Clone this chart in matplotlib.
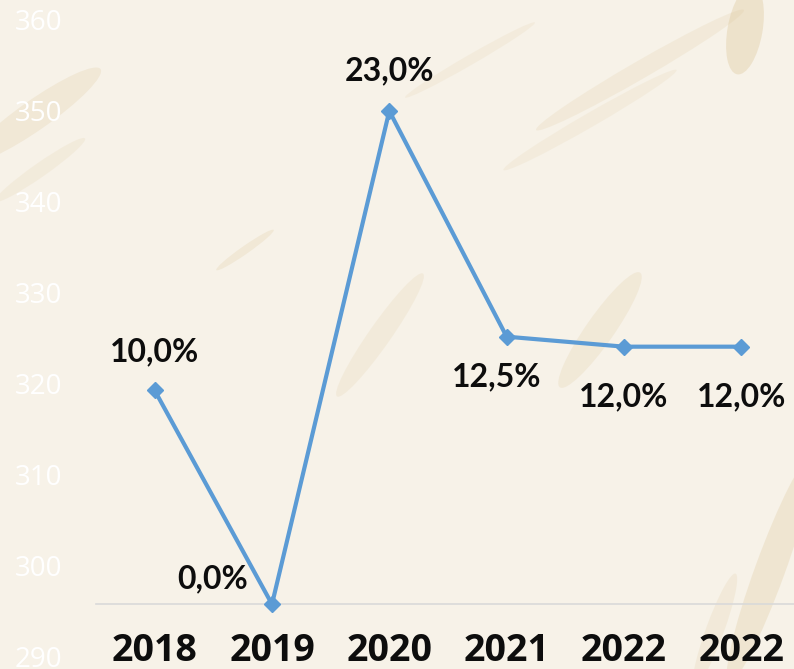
import matplotlib
matplotlib.use('Agg')
import matplotlib.pyplot as plt
from matplotlib.patches import Ellipse

# chart data
years = ['2018', '2019', '2020', '2021', '2022', '2022']
values = [319.3, 295.8, 350.0, 325.2, 324.1, 324.1]
labels = ['10,0%', '0,0%', '23,0%', '12,5%', '12,0%', '12,0%']
y_ticks = [290, 300, 310, 320, 330, 340, 350, 360]
baseline = 295.8

# label offsets in points (dx, dy)
offsets = [(0, 28), (-43, 18), (0, 29), (-7, -29), (0, -36), (0, -36)]

bg = '#f7f2e8'
tan = '#dcc597'
blue = '#5b9bd5'

# soft brush strokes of the paper background (pixels: x, y, length, width, angle, alpha)
strokes = [
    (745, 30, 90, 35, 80, 0.35),
    (640, 70, 240, 18, 30, 0.18),
    (590, 120, 200, 14, 30, 0.14),
    (35, 115, 160, 30, 35, 0.22),
    (40, 170, 110, 14, 35, 0.15),
    (380, 335, 150, 22, 55, 0.16),
    (600, 330, 140, 28, 55, 0.2),
    (770, 570, 240, 30, 70, 0.28),
    (715, 630, 120, 18, 70, 0.18),
    (245, 250, 70, 8, 35, 0.22),
    (470, 60, 150, 10, 30, 0.14),
]

W, H = 794, 669
fig = plt.figure(figsize=(W / 100, H / 100), dpi=100)
fig.patch.set_facecolor(bg)
# strokes drawn in pixel space so the angle is not squeezed
for sx, sy, sl, sw, ang, a in strokes:
    fig.add_artist(Ellipse((sx, H - sy), sl, sw, angle=ang,
                           transform=None, facecolor=tan,
                           edgecolor='none', alpha=a, zorder=0))

ax = fig.add_axes([0.1209, 0.01794, 0.8866, 0.9522])
ax.set_facecolor('none')

x = list(range(len(years)))
ax.plot(x, values, color=blue, linewidth=3, marker='D', markersize=8.5,
        clip_on=False, zorder=3)

for xi, v, lab, (dx, dy) in zip(x, values, labels, offsets):
    ax.annotate(lab, (xi, v), xytext=(dx, dy), textcoords='offset points',
                ha='center', va='center', fontsize=23, fontweight='bold',
                fontfamily='Lato', color='#0d0d0d', zorder=4)

ax.set_xlim(-0.5, len(years) - 0.5)
ax.set_ylim(290, 360)

# axes line and spines
for s in ['top', 'right', 'left']:
    ax.spines[s].set_visible(False)
ax.spines['bottom'].set_position(('data', baseline))
ax.spines['bottom'].set_color('#d9d9d9')
ax.spines['bottom'].set_linewidth(1.2)

ax.set_xticks(x)
ax.set_xticklabels(years, fontsize=27, fontweight='bold',
                   fontfamily='Open Sans', color='#0d0d0d')
ax.tick_params(axis='x', length=0, pad=20)

ax.set_yticks(y_ticks)
ax.set_yticklabels([str(t) for t in y_ticks], fontsize=20,
                   fontfamily='Open Sans', color='white')
ax.tick_params(axis='y', length=0, pad=24)

plt.savefig('out.png', dpi=100, facecolor=bg)
